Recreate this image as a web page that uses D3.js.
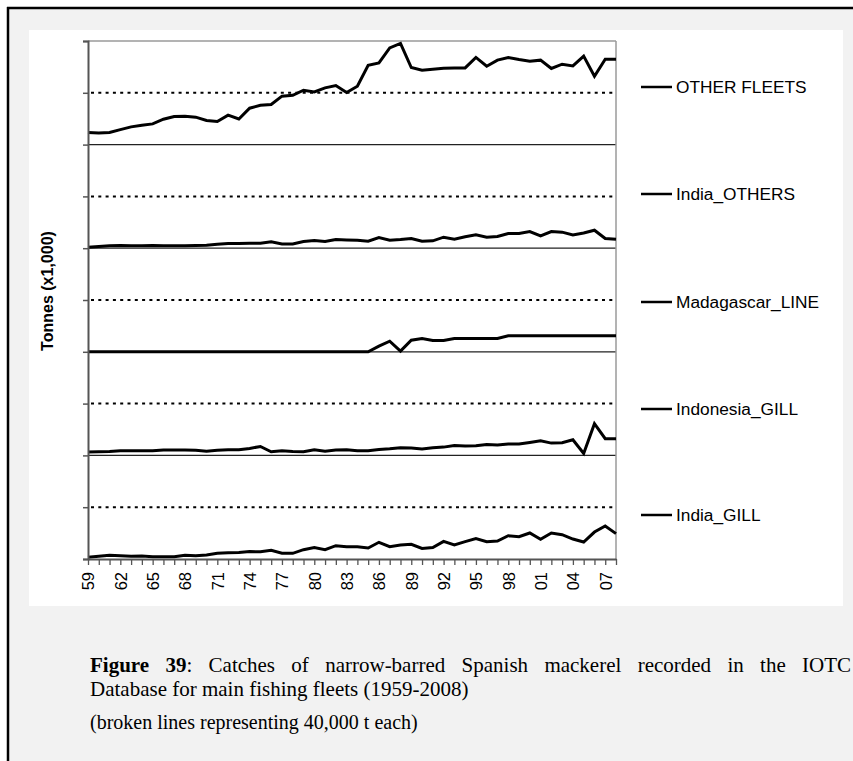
<!DOCTYPE html>
<html>
<head>
<meta charset="utf-8">
<script src="https://cdn.jsdelivr.net/npm/d3@7"></script>
<style>
  html, body { margin: 0; padding: 0; background: #ffffff; }
  svg { display: block; }
</style>
</head>
<body>
<svg id="chart" width="853" height="761"></svg>
<script>
// Catches by fleet, thousands of tonnes, 1959-2008
const years = d3.range(1959, 2009);

const fleetNames = ["India_GILL", "Indonesia_GILL", "Madagascar_LINE", "India_OTHERS", "OTHER FLEETS"];

const indiaGill = [1.3, 2.1, 2.8, 2.6, 2.1, 2.3, 1.8, 1.8, 1.8, 2.8,
                   2.6, 3.1, 4.4, 4.9, 5.1, 5.7, 5.6, 6.7, 4.4, 4.4,
                   7.2, 8.8, 7.2, 10.3, 9.5, 9.5, 8.5, 12.9, 9.5, 10.8,
                   11.3, 8.2, 8.8, 13.6, 10.8, 13.4, 15.7, 13.4, 13.9, 18.0,
                   17.2, 20.1, 15.2, 20.1, 18.8, 15.4, 13.1, 20.8, 25.5, 19.6];

const indonesiaGill = [2.6, 2.8, 3.1, 3.6, 3.6, 3.6, 3.6, 4.1, 4.1, 4.1,
                       3.9, 3.3, 3.9, 4.4, 4.4, 5.4, 6.9, 2.8, 3.6, 3.1,
                       2.8, 4.4, 3.3, 4.1, 4.3, 3.6, 3.6, 4.6, 5.1, 5.9,
                       5.7, 4.9, 5.9, 6.4, 7.7, 7.2, 7.5, 8.5, 8.0, 8.8,
                       8.8, 10.0, 11.3, 9.5, 9.8, 12.1, 1.5, 24.5, 12.9, 12.9];

const madagascarLine = [0, 0, 0, 0, 0, 0, 0, 0, 0, 0,
                        0, 0, 0, 0, 0, 0, 0, 0, 0, 0,
                        0, 0, 0, 0, 0, 0, 0, 4.4, 8.2, 0.5,
                        9.0, 10.3, 8.8, 8.8, 10.3, 10.3, 10.3, 10.3, 10.3, 12.4,
                        12.4, 12.4, 12.4, 12.4, 12.4, 12.4, 12.4, 12.4, 12.4, 12.4];

const indiaOthers = [0.8, 1.3, 1.8, 2.0, 1.8, 1.8, 2.0, 1.8, 1.8, 1.8,
                     2.0, 2.3, 3.1, 3.6, 3.6, 3.9, 3.9, 4.9, 3.3, 3.3,
                     5.1, 5.9, 5.1, 6.7, 6.4, 6.2, 5.4, 8.2, 6.2, 6.7,
                     7.5, 5.4, 5.7, 8.5, 6.9, 8.8, 10.3, 8.5, 9.0, 11.3,
                     11.3, 12.9, 9.5, 12.9, 12.4, 10.3, 11.8, 13.9, 7.5, 6.9];

const otherFleets = [9.3, 9.0, 9.3, 11.6, 13.7, 15.0, 16.0, 19.6, 21.7, 21.9,
                     21.2, 18.6, 17.8, 22.7, 19.8, 28.1, 30.4, 31.0, 37.4, 38.1,
                     42.0, 40.7, 43.8, 45.6, 40.2, 45.1, 61.3, 63.1, 74.7, 78.1,
                     59.5, 57.5, 58.2, 59.0, 59.2, 59.2, 67.3, 60.5, 65.2, 67.3,
                     65.7, 64.4, 65.2, 58.8, 62.1, 60.8, 68.3, 52.8, 65.9, 65.9];

// each fleet sits in its own band; bands are 80 (x1,000 t) tall
const bandSize = 80;
const guideStep = 40;
const yTickValues = d3.range(0, 401, guideStep);
const xTickLabels = ["59", "62", "65", "68", "71", "74", "77", "80", "83", "86",
                     "89", "92", "95", "98", "01", "04", "07"];

const yTitle = "Tonnes (x1,000)";
const captionBold = "Figure 39";
const captionLine1 = ": Catches of narrow-barred Spanish mackerel recorded in the IOTC";
const captionLine2 = "Database for main fishing fleets (1959-2008)";
const captionLine3 = "(broken lines representing 40,000 t each)";

const fleets = fleetNames.map((name, i) => ({
  name,
  offset: i * bandSize,
  values: [indiaGill, indonesiaGill, madagascarLine, indiaOthers, otherFleets][i]
}));

const svg = d3.select("#chart");
const sans = "'Liberation Sans', Arial, sans-serif";
const serif = "'Liberation Serif', 'Times New Roman', serif";

// outer frame and panels
svg.append("rect").attr("x", 0).attr("y", 0).attr("width", 853).attr("height", 761).attr("fill", "#ffffff");
svg.append("rect").attr("x", 9).attr("y", 9).attr("width", 850).attr("height", 760).attr("fill", "#f2f2f2");
svg.append("line").attr("x1", 8).attr("x2", 8).attr("y1", 7).attr("y2", 761).attr("stroke", "#000").attr("stroke-width", 2.5);
svg.append("line").attr("x1", 7).attr("x2", 853).attr("y1", 8).attr("y2", 8).attr("stroke", "#000").attr("stroke-width", 2.5);
svg.append("rect").attr("x", 29).attr("y", 30).attr("width", 814).attr("height", 576).attr("fill", "#ffffff");

const x = d3.scaleLinear().domain([1959, 2008]).range([88, 616]);
const y = d3.scaleLinear().domain([0, 400]).range([559, 41]);

// band separators (solid) and 40,000 t guides (dotted)
const guides = svg.append("g");
yTickValues.filter(v => v > 0 && v < 400).forEach(v => {
  const solid = v % bandSize === 0;
  guides.append("line")
    .attr("x1", x(1959)).attr("x2", x(2008))
    .attr("y1", y(v)).attr("y2", y(v))
    .attr("stroke", solid ? "#222" : "#000")
    .attr("stroke-width", solid ? 1.2 : 2)
    .attr("stroke-dasharray", solid ? null : "3,4.3")
    .attr("stroke-dashoffset", solid ? null : -3);
});

// plot frame: top and right edges
svg.append("line").attr("x1", x(1959)).attr("x2", x(2008)).attr("y1", y(400)).attr("y2", y(400))
  .attr("stroke", "#9a9a9a").attr("stroke-width", 1.5);
svg.append("line").attr("x1", x(2008)).attr("x2", x(2008)).attr("y1", y(400)).attr("y2", y(0))
  .attr("stroke", "#9a9a9a").attr("stroke-width", 1.5);

// series
const line = d3.line()
  .x((d, i) => x(years[i]))
  .y(d => d);

svg.append("g").selectAll("path")
  .data(fleets)
  .join("path")
  .attr("d", f => line(f.values.map(v => y(v + f.offset))))
  .attr("fill", "none")
  .attr("stroke", "#000")
  .attr("stroke-width", 3)
  .attr("stroke-linejoin", "miter");

// axes
const yAxis = d3.axisLeft(y).tickValues(yTickValues).tickSize(5).tickFormat("");
const gy = svg.append("g").attr("transform", `translate(${x(1959)},0)`).call(yAxis);
gy.select(".domain").attr("stroke", "#555").attr("stroke-width", 2);
gy.selectAll(".tick line").attr("stroke", "#555").attr("stroke-width", 1.5);

const xAxis = d3.axisBottom(x).tickValues(years).tickSize(6).tickSizeOuter(0)
  .tickFormat(yr => xTickLabels.includes(String(yr).slice(2)) && (yr - 1959) % 3 === 0 ? String(yr).slice(2) : "");
const gx = svg.append("g").attr("transform", `translate(0,${y(0)})`).call(xAxis);
gx.select(".domain").attr("stroke", "#555").attr("stroke-width", 2);
gx.selectAll(".tick line").attr("stroke", "#555").attr("stroke-width", 1.3);
gx.selectAll(".tick text")
  .attr("font-family", sans).attr("font-size", 16.5).attr("fill", "#000")
  .attr("transform", "rotate(-90)")
  .attr("x", -13).attr("y", 0).attr("dy", "0.35em")
  .attr("text-anchor", "end");

// axis title
svg.append("text")
  .attr("transform", `translate(53,291) rotate(-90)`)
  .attr("text-anchor", "middle")
  .attr("font-family", sans).attr("font-weight", "bold").attr("font-size", 16)
  .text(yTitle);

// legend, one entry per band, top fleet first
const legendY = [515, 409, 302, 194, 87];
const legend = svg.append("g").selectAll("g")
  .data(fleets)
  .join("g")
  .attr("transform", (f, i) => `translate(641,${legendY[i]})`);
legend.append("line").attr("x1", 0).attr("x2", 31).attr("y1", 0).attr("y2", 0)
  .attr("stroke", "#000").attr("stroke-width", 2.5);
legend.append("text").attr("x", 35).attr("dy", "0.36em")
  .attr("font-family", sans).attr("font-size", 17.3)
  .text(f => f.name);

// caption; first line justified across the page width
const capLeft = 90, capRight = 851;
const cap1 = svg.append("text").attr("x", capLeft).attr("y", 672)
  .attr("font-family", serif).attr("font-size", 21);
cap1.append("tspan").attr("font-weight", "bold").text(captionBold);
cap1.append("tspan").text(captionLine1);
const natural = cap1.node().getComputedTextLength();
const gaps = (captionBold + captionLine1).split(" ").length - 1;
cap1.attr("word-spacing", Math.max(0, (capRight - capLeft - natural) / gaps));

svg.append("text").attr("x", capLeft).attr("y", 696)
  .attr("font-family", serif).attr("font-size", 21).text(captionLine2);
svg.append("text").attr("x", capLeft).attr("y", 729)
  .attr("font-family", serif).attr("font-size", 20).text(captionLine3);
</script>
</body>
</html>
